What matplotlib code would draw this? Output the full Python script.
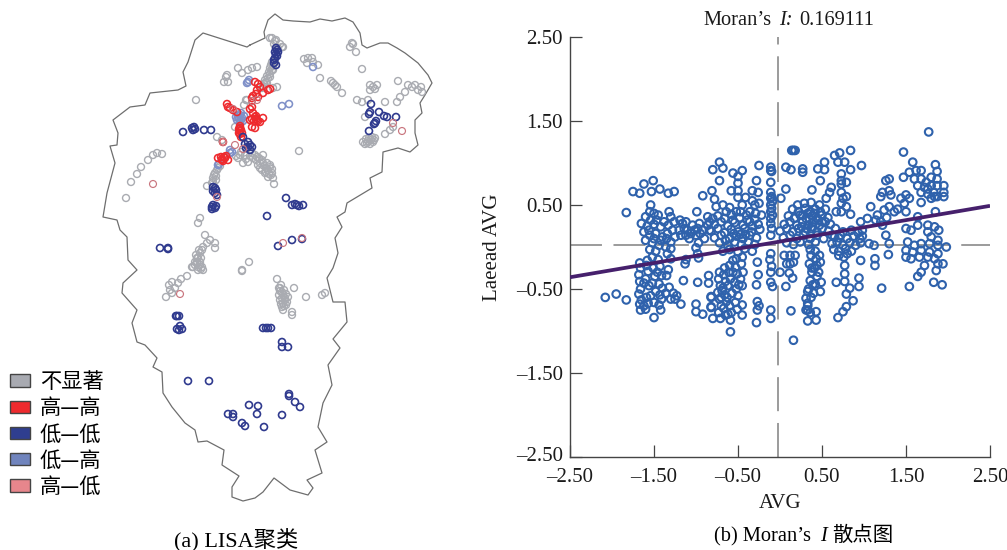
import matplotlib
matplotlib.use("Agg")
import matplotlib.pyplot as plt
from matplotlib.patches import Patch
from matplotlib.transforms import ScaledTranslation

plt.rcParams['font.family'] = ['Liberation Serif', 'Noto Sans CJK SC']
plt.rcParams['lines.scale_dashes'] = False

# ---------- LISA map data (map units = picture pixels) ----------
outline_x = [250,265,264,268,275,283,293,310,320,332,345,353,360,362,367,380,388,397,405,418,428,432,425,420,422,415,415,418,410,398,383,382,370,372,357,347,345,337,342,335,338,333,327,333,345,347,333,340,328,332,323,318,327,315,322,307,313,308,290,274,263,255,243,232,232,239,222,224,207,198,195,185,172,163,162,153,157,145,137,132,137,122,123,137,128,127,120,117,103,107,115,110,117,118,113,130,145,150,178,186,183,188,195,203,247,250]
outline_y = [45,38,32,20,14,20,21,22,19,21,18,22,33,45,48,43,43,48,53,63,75,83,95,103,113,120,133,145,152,148,152,172,178,188,197,203,212,217,227,238,253,268,278,302,302,322,339,348,365,385,403,427,442,450,473,480,488,495,490,478,492,498,501,497,487,476,465,450,441,442,430,423,407,393,372,367,358,345,342,323,310,293,283,270,260,237,230,220,217,193,163,146,145,133,120,107,105,93,90,86,72,62,40,33,47,45]

grey_pts = [(270,38),(272,38),(275,41),(276,40),(280,44),(283,47),(278,48),(282,47),(275,62),(273,66),(272,70),(270,74),(268,78),(266,82),(270,68),(264,84),(273,70),(270,77),(267,83),(262,88),(271,65),(269,72),(267,76),(265,80),(263,86),(272,62),(274,44),
(238,68),(242,73),(227,75),(224,82),(228,82),(248,70),(257,67),(252,68),(277,87),(273,88),(196,100),(246,100),(244,105),(247,100),(235,127),(217,137),(222,140),(226,77),
(304,59),(312,58),(307,63),(313,62),(308,58),(318,65),(320,78),(331,81),(335,85),(333,83),(337,87),(342,93),(362,69),(353,44),(350,47),(356,52),(352,43),
(370,85),(377,85),(370,90),(375,89),(373,87),(398,81),(385,102),(357,100),(362,102),(368,100),(365,117),(397,102),(400,97),(405,92),(408,85),(412,87),(415,85),(421,87),(422,92),(418,90),(385,134),(390,130),(393,127),
(363,142),(366,139),(372,137),(373,142),(370,144),(368,141),(375,138),(365,144),(371,140),(369,138),(367,143),(374,140),
(162,154),(157,153),(153,155),(148,160),(141,167),(137,174),(131,182),(126,198),(299,151),
(252,153),(257,157),(262,160),(267,163),(270,167),(272,173),(273,178),(274,184),(260,168),(265,173),(268,177),(243,163),(248,162),(238,158),(263,155),(270,165),(256,160),(260,163),(264,166),(268,170),(271,175),(253,158),(245,155),(241,152),(258,165),(262,170),(266,168),(250,156),(255,155),(259,158),(263,163),(266,172),(269,174),(272,169),(246,159),(240,155),(236,156),
(215,173),(213,178),(217,170),(212,183),(207,186),(214,175),(220,166),(216,180),(216,176),(213,181),(218,168),
(200,218),(198,223),(205,235),(210,240),(207,243),(215,243),(215,248),(203,247),(202,250),(200,253),(198,258),(197,262),(195,265),(192,267),(200,262),(202,267),(193,267),(198,267),(203,270),(197,263),(200,265),(196,255),(201,258),(199,250),(197,258),(195,262),(198,270),(201,269),(249,262),(242,270),(242,271),
(187,276),(181,279),(172,282),(169,285),(175,288),(172,293),(166,297),(178,283),(170,290),
(277,279),(294,288),(306,297),(322,295),(325,293),(280,288),(282,292),(283,295),(285,298),(280,300),(283,303),(287,302),(282,307),(283,310),(292,312),(292,315),(288,297),(281,285),(284,290),(286,305),(279,295),(280,291),(285,300),(282,298),(281,304),(284,306),(286,294),(279,288)]

lav_pts = [(248,82),(247,83),(249,80),(240,115),(237,120),(242,118),(240,123),(238,116),(243,121),(239,119),(241,113),(236,117),(244,116),(241,120),(230,153),(232,152),(218,165),(219,164),(282,106),(289,104),(313,67),(230,150)]

red_pts = [(258,84),(255,82),(260,87),(257,90),(253,96),(258,97),(263,93),(268,90),(270,89),(252,98),(256,94),(227,104),(230,108),(233,110),(237,112),(228,107),(252,107),(250,109),(253,113),(255,117),(252,119),(257,120),(263,118),(260,122),(255,128),(252,127),(256,119),(254,121),(250,120),(256,116),(258,121),(240,128),(240,131),(240,134),(241,137),(239,129),(241,130),(239,133),(240,126),(242,133),(223,142),(222,160),(218,158),(225,158),(228,160),(223,161),(226,156),(221,157),(222,159),(224,157)]

navy_pts = [(277,50),(276,54),(275,58),(274,60),(278,52),(274,63),(276,65),(277,56),(275,52),(276,48),(248,142),(245,144),(248,147),(250,150),(252,147),(243,137),(250,145),(246,148),(183,132),(194,127),(193,130),(195,129),(192,128),(204,130),(211,130),
(215,188),(213,191),(217,195),(215,193),(216,190),(213,187),(212,207),(213,205),(215,208),(212,209),(216,206),(371,104),(370,112),(369,114),(379,112),(384,116),(387,117),(396,117),(375,123),(374,124),(376,121),(369,131),
(286,198),(292,205),(297,205),(299,206),(303,205),(295,204),(267,216),(302,239),(292,240),(278,246),(160,248),(168,248),(168,249),
(177,316),(176,316),(179,316),(180,326),(177,329),(182,329),(179,330),(263,328),(266,328),(268,328),(271,328),(282,342),(282,347),(288,347),(188,381),(209,381),(289,394),(289,396),(295,402),(300,407),(249,405),(258,406),(257,414),(282,415),(228,414),(233,414),(233,417),(242,423),(245,426),(264,427)]

pink_pts = [(223,142),(153,184),(217,197),(402,131),(393,123),(283,243),(302,238),(180,294),(257,100),(233,109),(252,101),(235,145),(243,149)]

legend_labels = ['不显著', '高—高', '低—低', '低—高', '高—低']
legend_colors = ['#a8aab1', '#ee2a2e', '#2f3e8f', '#7084bd', '#e7868c']

# ---------- Moran scatter data ----------
moran_west = [(-2.08,-.60),(-1.95,-.56),(-1.83,-.63),(-1.83,.41),(-1.75,.66),(-1.67,.64),(-1.62,.75),(-1.51,.79),(-1.53,.66),(-1.43,.69),(-1.33,.64),(-1.26,.66),(-1.54,.50),(-1.65,.28),(-1.6,.36),(-1.55,.42),(-1.5,.4),(-1.45,.38),(-1.58,.25),(-1.5,.27),(-1.42,.24),(-1.62,.18),(-1.55,.14),(-1.48,.16),(-1.4,.12),(-1.6,.08),(-1.52,.05),(-1.44,.02),(-1.35,.1),(-1.32,.42),(-1.3,.36),(-1.26,.3),(-1.33,.26),(-1.28,.2),(-1.34,.16),(-1.25,.12),(-1.3,.06),(-1.36,0),(-1.3,-.02),(-1.55,-.03),(-1.48,-.05),(-1.34,-.08),(-1.3,-.14),(-1.52,-.12),(-1.45,-.15),(-1.58,-.16),(-1.47,.32),(-1.38,.3),(-1.54,.32),(-1.42,.08),(-1.5,.1),(-1.56,.2),
(-1.19,.32),(-1.16,.28),(-1.12,.3),(-1.14,.22),(-1.2,.2),(-1.18,.14),(-1.12,.14),(-1.06,.16),(-1.02,.2),(-.98,.22),(-1.08,.1),(-1,.14),(-.95,.16),(-.96,.28),(-.9,.1),(-.97,.05),(-1,-.01),(-.98,-.08),(-.97,-.13),(-.99,.42),(-1.12,-.15),(-1.13,-.2),(-.86,.36),(-.8,.34),(-.84,.3),(-.86,.26),(-.84,.2),(-.92,.2),(-1.04,.26),(-1.1,.2),
(-1.67,-.19),(-1.66,-.25),(-1.68,-.33),(-1.67,-.41),(-1.66,-.5),(-1.68,-.56),(-1.65,-.63),(-1.67,-.68),(-1.66,-.75),(-1.59,-.22),(-1.57,-.29),(-1.6,-.38),(-1.56,-.46),(-1.59,-.6),(-1.57,-.67),(-1.6,-.74),(-1.5,-.84),(-1.51,-.25),(-1.49,-.35),(-1.52,-.43),(-1.48,-.53),(-1.5,-.66),(-1.43,-.23),(-1.41,-.34),(-1.44,-.44),(-1.4,-.49),(-1.43,-.57),(-1.41,-.62),(-1.44,-.69),(-1.42,-.75),(-1.33,-.27),(-1.35,-.34),(-1.32,-.48),(-1.36,-.55),(-1.3,-.62),(-1.27,-.55),(-1.23,-.58),(-1.25,-.62),(-1.15,-.4),(-1.18,-.68),(-.98,-.42),(-.85,-.34),(-.85,-.43),(-1,-.68),(-1,-.77),(-.92,-.8),(-.82,-.6),(-.82,-.72),(-1.62,-.7),(-1.54,-.58),(-1.46,-.3),(-1.62,-.43)]

moran_centre = [(-.72,1.01),(-.8,.92),(-.68,.94),(-.56,.88),(-.45,.91),(-.25,.97),(-.72,.79),(-.5,.84),(-.5,.76),(-.28,.79),(-.81,.67),(-.92,.61),(-.58,.67),(-.5,.67),(-.33,.67),(-.26,.65),(-.5,.59),(-.41,.59),(-.33,.55),(-.25,.52),(-.78,.57),(-.76,.48),(-.68,.5),(-.6,.47),(-.52,.42),(-.45,.5),(-.3,.5),(-.36,.42),
(-.74,.37),(-.66,.34),(-.58,.39),(-.48,.35),(-.4,.38),(-.3,.33),(-.22,.38),(-.78,.27),(-.7,.3),(-.62,.25),(-.54,.29),(-.44,.26),(-.36,.3),(-.26,.27),(-.82,.19),(-.74,.22),(-.66,.17),(-.58,.21),(-.5,.18),(-.42,.22),(-.34,.18),(-.24,.21),(-.78,.11),(-.7,.14),(-.6,.1),(-.52,.13),(-.44,.1),(-.36,.14),(-.28,.11),(-.72,.05),(-.62,.02),(-.54,.06),(-.46,.03),(-.38,.06),(-.3,.03),(-.68,-.05),(-.6,-.03),(-.5,-.06),(-.42,-.02),(-.33,-.05),(-.64,.42),(-.56,.32),(-.47,.42),(-.39,.32),(-.33,.25),(-.55,.16),(-.47,.15),(-.65,.08),(-.41,.15),(-.29,.4),
(-.72,-.3),(-.73,-.38),(-.71,-.46),(-.74,-.54),(-.72,-.62),(-.7,-.7),(-.73,-.78),(-.71,-.85),(-.66,-.25),(-.67,-.33),(-.65,-.41),(-.68,-.49),(-.66,-.57),(-.64,-.65),(-.67,-.73),(-.65,-.81),(-.6,-.22),(-.61,-.3),(-.59,-.38),(-.62,-.46),(-.6,-.7),(-.58,-.78),(-.52,-.14),(-.53,-.24),(-.51,-.32),(-.54,-.42),(-.52,-.5),(-.5,-.58),(-.53,-.66),(-.51,-.74),(-.45,-.12),(-.46,-.2),(-.44,-.3),(-.47,-.38),(-.45,-.46),(-.45,-.69),(-.45,-.81),(-.59,-.87),(-.59,-1.01),(-.82,-.59),(-.82,-.71),(-.8,-.85),(-.69,-.52),(-.63,-.6),(-.57,-.55),(-.56,-.3),(-.49,-.45),(-.7,-.6),(-.56,-.16),(-.62,-.8),
(-.27,-.18),(-.26,-.33),(-.28,-.45),(-.27,-.65),(-.25,-.7),(-.27,-.75),(-.28,-.9),(-.11,-.08),(-.12,-.15),(-.1,-.23),(-.11,-.3),(-.11,-.42),(-.09,-.47),(-.11,-.75),(-.11,-.85),(-.11,.95),(-.11,.91),(-.11,.77),(-.11,.65),(-.11,.58),(-.11,.5),(-.11,.42),(-.11,.34),(-.11,.28),(-.11,.14),(-.1,.9),(-.1,.6),(-.1,.46),(-.09,.54),(-.09,.38),(-.1,.22)]

moran_east = [(.14,1.15),(.16,1.15),(.18,1.15),(.07,.95),(.13,.92),(.27,.93),(.27,.89),(.45,.93),(.53,.92),(.53,1.01),(.65,1.09),(.71,1.12),(.84,1.15),(.77,1.01),(.69,1.01),(.97,.97),(.84,.92),(.48,.79),(.73,.87),(.73,.79),(.73,.75),(.79,.77),(.38,.68),(.07,.69),(.01,.58),(.61,.71),(.59,.65),(.55,.58),(.73,.65),(.75,.58),(.79,.6),(.73,.52),(.79,.48),(.67,.42),(.73,.42),(.84,.39),
(.21,.5),(.29,.52),(.37,.53),(.47,.5),(.15,.45),(.22,.42),(.3,.46),(.36,.42),(.42,.45),(.48,.42),(.54,.45),(.1,.37),(.17,.34),(.24,.38),(.31,.34),(.38,.37),(.44,.34),(.5,.38),(.57,.35),(.05,.27),(.12,.3),(.2,.26),(.27,.3),(.34,.26),(.4,.3),(.47,.26),(.54,.3),(.6,.27),(0,.19),(.08,.22),(.15,.18),(.22,.22),(.3,.18),(.37,.22),(.44,.18),(.5,.22),(.58,.19),(.66,.22),(.04,.11),(.12,.14),(.2,.1),(.28,.14),(.36,.1),(.44,.14),(.52,.1),(.62,.14),(.7,.11),(.08,.05),(.16,.03),(.24,.06),(.34,.03),(.42,.06),(.33,.4),(.41,.4),(.27,.38),(.35,.33),(.46,.32),(.39,.24),(.32,.22),(.26,.24),(.5,.3),
(.36,-.03),(.37,-.1),(.35,-.2),(.38,-.3),(.36,-.4),(.34,-.5),(.37,-.6),(.42,-.05),(.43,-.14),(.41,-.25),(.44,-.35),(.42,-.44),(.4,-.55),(.47,-.1),(.48,-.18),(.46,-.3),(.49,-.42),(.48,-.53),(.33,-.53),(.31,-.61),(.33,-.67),(.31,-.75),(.43,-.77),(.43,-.87),(.33,-.88),(.33,-.75),(.13,-.76),(.16,-1.11),(.07,-.47),(.15,-.37),(.11,-.31),(0,-.3),(.12,-.1),(.16,-.18),(.08,-.2),(.12,-.2),(.18,-.1),(.05,-.1),(.38,-.25),(.44,-.22),(.39,-.45),(.33,-.7),(.36,-.78),
(.75,.18),(.85,.2),(.93,.17),(.98,.2),(.65,.12),(.72,.14),(.8,.1),(.88,.13),(.95,.1),(.98,.13),(.62,.04),(.68,.06),(.75,.02),(.83,.05),(.9,.02),(.96,.05),(.64,-.03),(.7,-.05),(.78,-.02),(.85,-.05),(.7,-.1),(.76,-.12),(.8,-.08),(.96,-.16),(.77,-.22),(.77,-.32),(.67,-.42),(.77,-.41),(.94,-.37),(.94,-.47),(.83,-.49),(.79,-.56),(.87,-.64),(.79,-.71),(.75,-.77),(.69,-.84),
(1.08,.48),(.96,.3),(1.04,.34),(1.06,.04),(1.12,.02),(1.16,.38),(1.24,.44),(1.3,.48),(1.22,.65),(1.3,.67),(1.2,.6),(1.3,.81),(1.26,.79),(1.32,.62),(1.22,.26),(1.26,.14),(1.3,.04),(1.29,-.09),(1.13,-.14),(1.13,-.22),(1.21,-.49),(1.54,-.47),(1.14,.32),(1.2,.3),(1.27,.35),
(1.47,1.13),(1.58,1.01),(1.54,.89),(1.62,.91),(1.68,.91),(1.85,.98),(1.87,.9),(1.47,.83),(1.6,.81),(1.68,.81),(1.8,.83),(1.87,.81),(1.64,.73),(1.72,.71),(1.8,.73),(1.87,.73),(1.95,.73),(1.68,.65),(1.76,.63),(1.83,.65),(1.95,.65),(1.8,.58),(1.87,.6),(1.95,.6),(1.68,.53),(1.44,.58),(1.5,.62),(1.54,.58),(1.48,.52),(1.5,.42),(1.36,.42),(1.4,.45),(1.85,.42),(1.64,.36),(1.76,.26),(1.84,.24),(1.89,.2),(1.64,.26),(1.5,.22),(1.56,.2),(1.76,.18),(1.8,.12),(1.88,.08),(1.52,.06),(1.6,.02),(1.68,.04),(1.78,.04),(1.88,.02),(1.98,0),(1.5,-.04),(1.58,-.06),(1.68,-.04),(1.78,-.06),(1.88,-.08),(1.5,-.12),(1.56,-.14),(1.66,-.12),(1.76,-.12),(1.84,-.14),(1.72,-.22),(1.88,-.2),(1.94,-.2),(1.86,-.28),(1.68,-.3),(1.64,-.35),(1.83,-.42),(1.93,-.45),(1.77,1.37),(1.76,.69),(1.84,.6),(1.74,.77)]

fit_x = [-2.5, 2.5]
fit_y = [-0.36, 0.49]
tick_vals = [-2.5, -1.5, -0.5, 0.5, 1.5, 2.5]
tick_text = ['–2.50', '–1.50', '–0.50', '0.50', '1.50', '2.50']

W, H = 1007, 550
fig = plt.figure(figsize=(W / 100, H / 100), dpi=100)

# ---------- left panel and page-level text ----------
page = fig.add_axes([0, 0, 1, 1])
page.set_xlim(0, W)
page.set_ylim(H, 0)
page.axis('off')
page.plot(outline_x, outline_y, color='#6e6e6e', lw=0.9, zorder=1)
for pts, col, edge_w, z in [(grey_pts, '#a9abb1', 1.0, 2), (lav_pts, '#7f90c8', 1.15, 3),
                            (red_pts, '#ee2a2e', 1.15, 4), (navy_pts, '#2f3a8e', 1.2, 5),
                            (pink_pts, '#c9767f', 0.85, 6)]:
    page.scatter([p[0] for p in pts], [p[1] for p in pts], s=25, facecolors='none',
                 edgecolors=col, linewidths=edge_w, zorder=z)

handles = [Patch(facecolor=c, edgecolor='#444444', linewidth=1.0) for c in legend_colors]
page.legend(handles, legend_labels, loc='upper left', bbox_to_anchor=(10 / W, 1 - 371 / H),
            frameon=False, borderpad=0, borderaxespad=0, handlelength=0.93,
            handleheight=0.52, handletextpad=0.47, labelspacing=0.2,
            prop={'family': ['Noto Sans CJK SC', 'DejaVu Sans'], 'size': 15.3, 'weight': 'light'})

page.text(236, 546, '(a) LISA聚类', ha='center', va='baseline', fontsize=16,
          family=['Liberation Serif', 'Noto Sans CJK SC'])
page.text(714, 541, '(b) Moran’s', ha='left', va='baseline', fontsize=14.7)
page.text(820, 541, 'I', ha='left', va='baseline', fontsize=14.7, style='italic')
page.text(832, 541, '散点图', ha='left', va='baseline', fontsize=14.7, family='Noto Sans CJK SC')

page.text(703, 25, 'Moran’s', ha='left', va='baseline', fontsize=14.7, color='#1a1a1a')
page.text(779, 25, 'I:', ha='left', va='baseline', fontsize=14.7, style='italic', color='#1a1a1a')
page.text(799, 25, '0.169111', ha='left', va='baseline', fontsize=14.7, color='#1a1a1a')

# ---------- right panel ----------
ax = fig.add_axes([570 / W, 1 - 457 / H, 420 / W, 420 / H])
ax.patch.set_alpha(0)
ax.set_xlim(-2.5, 2.5)
ax.set_ylim(-2.5, 2.5)
for s in ('top', 'right'):
    ax.spines[s].set_visible(False)
for s in ('left', 'bottom'):
    ax.spines[s].set_color('#444444')
    ax.spines[s].set_linewidth(1.0)
ax.set_xticks(tick_vals, tick_text)
ax.set_yticks(tick_vals, tick_text)
ax.tick_params(direction='in', length=8.5, width=0.9, color='#444444', labelsize=15, pad=5, labelcolor='#1a1a1a')
ax.tick_params(axis='x', pad=8)
low = ax.get_yticklabels()[0]
low.set_transform(low.get_transform() + ScaledTranslation(0, 3 / 100, fig.dpi_scale_trans))

ax.axhline(0.02, color='#808080', lw=1.1, ls=(0, (23, 8.3)), zorder=1)
ax.plot([-0.02, -0.02], [-2.5, 2.5], color='#808080', lw=1.1, ls=(0, (24.5, 8.5)), zorder=1)

pts = moran_west + moran_centre + moran_east
ax.scatter([p[0] for p in pts], [p[1] for p in pts], s=30, facecolors='none',
           edgecolors='#2f62ac', linewidths=1.5, zorder=2, clip_on=False)
ax.plot(fit_x, fit_y, color='#46206c', lw=2.7, solid_capstyle='butt', zorder=3)

ax.set_xlabel('AVG', fontsize=15, labelpad=5, color='#1a1a1a')
ax.set_ylabel('Laeead AVG', fontsize=15, labelpad=10, color='#1a1a1a')

fig.savefig('out.png', dpi=100)
